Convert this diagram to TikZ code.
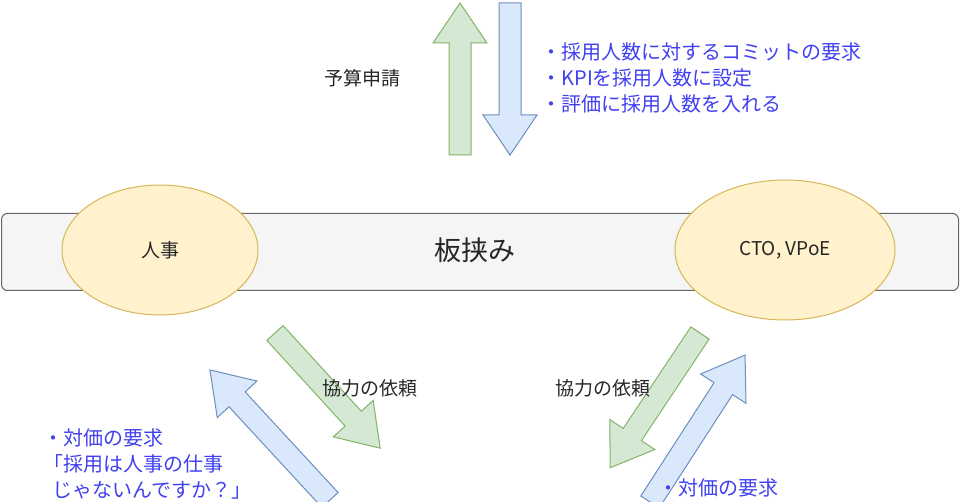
\documentclass[tikz,border=0pt]{standalone}
\usepackage{fontspec}
\setmainfont{Noto Sans CJK JP}
\definecolor{gf}{HTML}{D5E8D4}\definecolor{gs}{HTML}{82B366}
\definecolor{bf}{HTML}{DAE8FC}\definecolor{bs}{HTML}{6C8EBF}
\definecolor{yf}{HTML}{FFF2CC}\definecolor{ys}{HTML}{D6B656}
\definecolor{txtb}{HTML}{4040F0}
\tikzset{
 garr/.style={fill=gf,draw=gs,line width=1pt},
 barr/.style={fill=bf,draw=bs,line width=1pt},
 ell/.style={ellipse,fill=yf,draw=ys,line width=1pt},
 lbl/.style={font=\fontsize{19}{26}\selectfont,text=black!85},
 blu/.style={font=\fontsize{20}{26}\selectfont,text=txtb,align=left},
}
\usetikzlibrary{shapes.geometric}
\newcommand{\fatarr}[5]{% style, x, y, angle, length
 \begin{scope}[shift={(#2,#3)},rotate=#4,x=1pt,y=1pt]
 \draw[#1] (0,-11) -- ({#5-40},-11) -- ({#5-40},-27) -- (#5,0) -- ({#5-40},27) -- ({#5-40},11) -- (0,11) -- cycle;
 \end{scope}}
\begin{document}
\begin{tikzpicture}[x=1pt,y=-1pt]
\useasboundingbox (0,0) rectangle (960,502);
\node[draw=black!60,fill=black!4,rounded corners=6pt,line width=1pt,minimum width=957pt,minimum height=77pt,anchor=north west] (bar) at (1,213) {};
\node[ell,minimum width=196pt,minimum height=130pt] (hr) at (160,250) {};
\node[ell,minimum width=220pt,minimum height=140pt] (cto) at (785,250) {};
\node[lbl] at (hr) {人事};
\node[lbl] at (cto) {CTO, VPoE};
\node[font=\fontsize{27}{30}\selectfont,text=black!85] (mid) at (475,250) {板挟み};
\fatarr{garr}{460}{155}{90}{152}
\fatarr{barr}{510}{3}{-90}{152}
\fatarr{garr}{275}{333}{-47.6}{156}
\fatarr{barr}{330}{500}{132.7}{177}
\fatarr{garr}{700}{333}{-123.7}{162}
\fatarr{barr}{650}{502}{57.1}{175}
\node[lbl] (yosan) at (362,78) {予算申請};
\node[blu,anchor=west] (req) at (538,78) {・採用人数に対するコミットの要求\\・KPIを採用人数に設定\\・評価に採用人数を入れる};
\node[blu,anchor=west] (t1) at (40,464) {・対価の要求\\「採用は人事の仕事\\\ \ じゃないんですか？」};
\node[lbl] (k1) at (370,388) {協力の依頼};
\node[lbl] (k2) at (603,388) {協力の依頼};
\node[blu,anchor=west] (t2) at (655,488) {・対価の要求};
\end{tikzpicture}
\end{document}
